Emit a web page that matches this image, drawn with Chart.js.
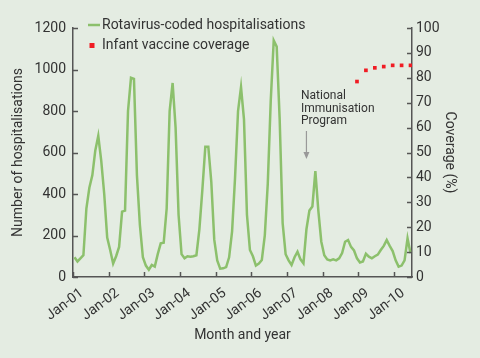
<!DOCTYPE html>
<html>
<head>
<meta charset="utf-8">
<script src="https://cdn.jsdelivr.net/npm/chart.js@4/dist/chart.umd.min.js"></script>
<style>
html, body { margin: 0; padding: 0; background: #e4ece2; }
#wrap { width: 480px; height: 358px; }
</style>
</head>
<body>
<div id="wrap"><canvas id="chart" width="480" height="358"></canvas></div>
<script>
// monthly rotavirus-coded hospitalisations, Jan-01 .. Jun-10
var hospitalisations = [
  95, 75, 90, 105, 330, 430, 490, 610, 680, 560, 400, 190,
  130, 65, 100, 145, 315, 320, 800, 960, 955, 490, 250, 95,
  55, 35, 58, 50, 110, 162, 165, 330, 800, 935, 720, 300,
  110, 90, 100, 98, 100, 105, 230, 420, 628, 628, 460, 180,
  80, 40, 42, 48, 95, 220, 480, 800, 915, 760, 300, 130,
  100, 55, 65, 82, 200, 450, 850, 1140, 1110, 760, 260, 110,
  80, 58, 95, 122, 85, 66, 230, 320, 340, 510, 320, 170,
  105, 85, 80, 85, 80, 90, 115, 170, 178, 145, 128, 90,
  70, 75, 112, 98, 90, 100, 108, 130, 150, 178, 150, 125,
  80, 50, 55, 80, 186, 114
];
// infant vaccine coverage (%), quarterly, month index from Jan-01
var coverageMonths = [95, 98, 101, 104, 107, 110, 113];
var coverage = [78.5, 83, 84, 84.5, 85, 85, 85];

var yearTickMonths = [0, 12, 24, 36, 48, 60, 72, 84, 96, 108];
var yearTickLabels = ['Jan-01', 'Jan-02', 'Jan-03', 'Jan-04', 'Jan-05', 'Jan-06', 'Jan-07', 'Jan-08', 'Jan-09', 'Jan-10'];

var green = '#8cc06c';
var red = '#f01c24';
var axisCol = '#555555';
var textCol = '#333333';
var fontFam = 'Roboto, "Liberation Sans", sans-serif';

var hospData = hospitalisations.map(function (v, i) { return { x: i + 0.5, y: v }; });
var covData = coverage.map(function (v, i) { return { x: coverageMonths[i] + 0.5, y: v }; });

// inside tick marks, legend and the NIP note
var extras = {
  id: 'extras',
  afterDraw: function (chart) {
    var ctx = chart.ctx;
    var x = chart.scales.x, y = chart.scales.y, y2 = chart.scales.y2;
    var a = chart.chartArea;
    ctx.save();
    ctx.strokeStyle = axisCol;
    ctx.lineWidth = 1.5;
    ctx.beginPath();
    y.ticks.forEach(function (t) {
      var py = Math.round(y.getPixelForValue(t.value)) + 0.5;
      ctx.moveTo(a.left, py); ctx.lineTo(a.left + 5, py);
    });
    y2.ticks.forEach(function (t) {
      var py = Math.round(y2.getPixelForValue(t.value)) + 0.5;
      ctx.moveTo(a.right, py); ctx.lineTo(a.right - 5, py);
    });
    yearTickMonths.forEach(function (m) {
      var px = Math.round(x.getPixelForValue(m)) + 0.5;
      ctx.moveTo(px, a.bottom); ctx.lineTo(px, a.bottom - 5);
    });
    ctx.stroke();

    // legend
    ctx.font = '14px ' + fontFam;
    ctx.fillStyle = textCol;
    ctx.textBaseline = 'middle';
    ctx.textAlign = 'left';
    ctx.strokeStyle = green;
    ctx.lineWidth = 2.5;
    ctx.beginPath();
    ctx.moveTo(88, 25); ctx.lineTo(100, 25);
    ctx.stroke();
    ctx.fillText('Rotavirus-coded hospitalisations', 102, 25);
    ctx.fillStyle = red;
    ctx.fillRect(89.5, 43, 5, 5);
    ctx.fillStyle = textCol;
    ctx.fillText('Infant vaccine coverage', 102, 45);

    // National Immunisation Program note
    var nx = x.getPixelForValue(78.5);
    ctx.font = '12px ' + fontFam;
    ctx.fillText('National', 301, 96);
    ctx.fillText('Immunisation', 301, 108.5);
    ctx.fillText('Program', 301, 121);
    ctx.strokeStyle = '#999999';
    ctx.fillStyle = '#999999';
    ctx.lineWidth = 1.2;
    ctx.beginPath();
    ctx.moveTo(nx, 131); ctx.lineTo(nx, 155);
    ctx.stroke();
    ctx.beginPath();
    ctx.moveTo(nx - 3, 152); ctx.lineTo(nx + 3, 152); ctx.lineTo(nx, 159);
    ctx.closePath();
    ctx.fill();
    ctx.restore();
  }
};

new Chart(document.getElementById('chart'), {
  type: 'line',
  data: {
    datasets: [
      {
        label: 'Rotavirus-coded hospitalisations',
        data: hospData,
        yAxisID: 'y',
        borderColor: green,
        borderWidth: 2.5,
        pointRadius: 0,
        tension: 0
      },
      {
        label: 'Infant vaccine coverage',
        data: covData,
        yAxisID: 'y2',
        showLine: false,
        pointStyle: 'rect',
        pointRadius: 2.6,
        backgroundColor: red,
        borderColor: red,
        borderWidth: 0
      }
    ]
  },
  options: {
    responsive: false,
    animation: false,
    layout: { padding: { top: 28, left: 0, right: 0, bottom: 0 } },
    plugins: { legend: { display: false }, tooltip: { enabled: false } },
    scales: {
      x: {
        type: 'linear',
        min: 0,
        max: 114,
        afterBuildTicks: function (s) { s.ticks = yearTickMonths.map(function (v) { return { value: v }; }); },
        afterFit: function (s) { s.height = 81; },
        grid: { drawOnChartArea: false, drawTicks: false },
        border: { color: axisCol, width: 1.5 },
        ticks: {
          autoSkip: false,
          minRotation: 37,
          maxRotation: 37,
          labelOffset: 9,
          padding: 8,
          color: textCol,
          font: { family: fontFam, size: 14 },
          callback: function (v) { return yearTickLabels[yearTickMonths.indexOf(v)]; }
        },
        title: {
          display: true,
          text: 'Month and year',
          color: textCol,
          font: { family: fontFam, size: 14 },
          padding: { top: 0, bottom: 14 }
        }
      },
      y: {
        position: 'left',
        min: 0,
        max: 1200,
        afterFit: function (s) { s.width = 73; },
        grid: { drawOnChartArea: false, drawTicks: false },
        border: { color: axisCol, width: 1.5 },
        ticks: {
          stepSize: 200,
          padding: 7,
          color: textCol,
          font: { family: fontFam, size: 14 },
          callback: function (v) { return String(v); }
        },
        title: {
          display: true,
          text: 'Number of hospitalisations',
          color: textCol,
          font: { family: fontFam, size: 14 },
          padding: { top: 10, bottom: 0 }
        }
      },
      y2: {
        position: 'right',
        min: 0,
        max: 100,
        afterFit: function (s) { s.width = 68; },
        grid: { drawOnChartArea: false, drawTicks: false },
        border: { color: axisCol, width: 1.5 },
        ticks: { stepSize: 10, padding: 4, color: textCol, font: { family: fontFam, size: 14 } },
        title: {
          display: true,
          text: 'Coverage (%)',
          color: textCol,
          font: { family: fontFam, size: 14 },
          padding: { top: 22, bottom: 0 }
        }
      }
    }
  },
  plugins: [extras]
});
</script>
</body>
</html>
